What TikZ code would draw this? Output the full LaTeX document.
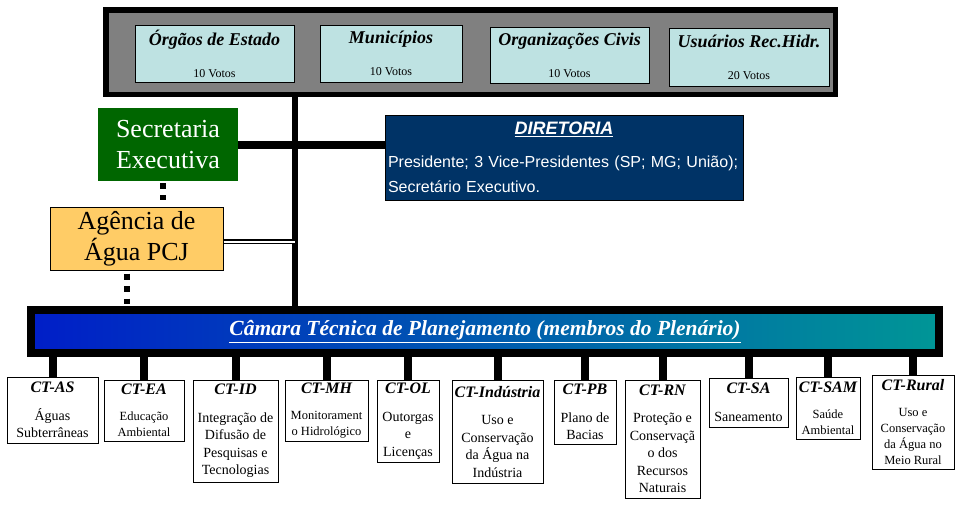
\documentclass[tikz,border=0pt]{standalone}
\usepackage{fontspec}
\setmainfont{Liberation Serif}
\setsansfont{Liberation Sans}
\usetikzlibrary{positioning}
\definecolor{secGreen}{RGB}{0,102,0}
\definecolor{agOrange}{RGB}{255,204,102}
\definecolor{dirBlue}{RGB}{0,51,102}
\definecolor{seatCyan}{RGB}{190,226,226}
\definecolor{camBlue}{RGB}{0,30,200}
\definecolor{camTeal}{RGB}{0,150,150}
\newcommand{\seattitle}[1]{{\fontsize{18}{18}\selectfont\bfseries\itshape #1}}
\newcommand{\cttitle}[1]{{\fontsize{16}{17.5}\selectfont\bfseries\itshape #1}}
\tikzset{%
  % Specifications for style of nodes:
          frame/.style = {rectangle, draw=black, line width=5.5pt, fill=black!50,
                          minimum width=729.5, minimum height=84.5},
           seat/.style = {rectangle, draw=black, line width=1pt, fill=seatCyan,
                          align=center, inner sep=0pt,
                          font=\fontsize{12}{18}\selectfont},
         secbox/.style = {rectangle, fill=secGreen, text=white, align=center,
                          minimum width=140, minimum height=73,
                          font=\fontsize{26}{31}\selectfont},
          agbox/.style = {rectangle, draw=black, line width=1pt, fill=agOrange,
                          align=center, minimum width=173, minimum height=63,
                          font=\fontsize{26}{31}\selectfont},
         dirbox/.style = {rectangle, draw=black, line width=1pt, fill=dirBlue,
                          text=white, align=left, text width=352,
                          inner xsep=3pt, minimum height=85,
                          font=\sffamily\fontsize{16}{25}\selectfont},
         cambar/.style = {rectangle, draw=black, line width=8pt,
                          left color=camBlue, right color=camTeal,
                          minimum width=908, minimum height=43, text=white,
                          font=\fontsize{21.5}{24}\selectfont\bfseries\itshape},
          ctbox/.style = {rectangle, draw=black, line width=1pt, fill=white,
                          align=center, inner sep=1pt,
                          font=\fontsize{14}{17.5}\selectfont},
        ctsmall/.style = {ctbox, font=\fontsize{12.5}{16}\selectfont},
  % Specifications for style of lines:
      trunkline/.style = {line width=6pt},
           link/.style = {line width=8pt},
           drop/.style = {line width=8pt},
        dotlink/.style = {line width=6pt, dash pattern=on 6pt off 6pt},
     doublelink/.style = {double, double distance=2pt, line width=1.7pt},
}

\begin{document}
\begin{tikzpicture}[x=1pt, y=-1pt]
\useasboundingbox (0,0) rectangle (960,504);
  % Plenario (top)
\node (frame) at (470.5,52) [frame] {};
\node (orgaos) at (214.5,53.5) [seat, minimum width=159, minimum height=57]
      {\seattitle{Órgãos de Estado}\\[14pt]10 Votos};
\node (munic) at (391,53.5) [seat, minimum width=142, minimum height=57]
      {\seattitle{Municípios}\\[14pt]10 Votos};
\node (orgciv) at (569.5,55) [seat, minimum width=159, minimum height=56]
      {\seattitle{Organizações Civis}\\[14pt]10 Votos};
\node (usuarios) at (749,57) [seat, minimum width=160, minimum height=58]
      {\seattitle{Usuários Rec.Hidr.}\\[14pt]20 Votos};

  % Secretaria, Agencia, Diretoria
\node (sec) at (168,144.5) [secbox] {Secretaria\\Executiva};
\node (ag) at (136.5,238.5) [agbox] {Agência de\\Água PCJ};
\node (dir) at (564,157.5) [dirbox]
      {{\centering\fontsize{18}{25}\selectfont\bfseries\itshape\underline{DIRETORIA}\par}
       \vspace{8pt}Presidente; 3 Vice-Presidentes (SP; MG; União);\\
       Secretário Executivo.};

  % Camara Tecnica
\node (cam) at (485,331.5) [cambar]
      {\underline{Câmara Técnica de Planejamento (membros do Plenário)}};

\coordinate (trunk) at (295,97);
\draw[trunkline] (trunk) -- (trunk |- cam.north);
\draw[link] (sec.east) -- (sec.east -| dir.west);
\draw[doublelink] ([yshift=-3pt]ag.east) -- ([yshift=-3pt]ag.east -| trunk);
\draw[dotlink, shorten <=2pt, shorten >=7pt]
      ([xshift=-5pt]sec.south) -- ([xshift=-5pt]sec.south |- ag.north);
\draw[dotlink, dash pattern=on 6pt off 6.5pt, shorten <=3pt, shorten >=2pt]
      ([xshift=-9.5pt]ag.south) -- ([xshift=-9.5pt]ag.south |- cam.north);

  % Camaras tecnicas (bottom)
\node (ctAS) at (52.5,410) [ctbox, minimum width=91, minimum height=66]
      {\cttitle{CT-AS}\\[10pt]Águas\\Subterrâneas};
\node (ctEA) at (144,410.5) [ctsmall, minimum width=80, minimum height=61]
      {\cttitle{CT-EA}\\[10pt]Educação\\Ambiental};
\node (ctID) at (235.5,431) [ctbox, minimum width=85, minimum height=102]
      {\cttitle{CT-ID}\\[10pt]Integração de\\Difusão de\\Pesquisas e\\Tecnologias};
\node (ctMH) at (326.5,410.5) [ctsmall, minimum width=83, minimum height=61]
      {\cttitle{CT-MH}\\[10pt]Monitorament\\o Hidrológico};
\node (ctOL) at (408,421) [ctbox, minimum width=62, minimum height=82]
      {\cttitle{CT-OL}\\[10pt]Outorgas\\e\\Licenças};
\node (ctInd) at (497.5,431.5) [ctbox, minimum width=91, minimum height=103]
      {\cttitle{CT-Indústria}\\[10pt]Uso e\\Conservação\\da Água na\\Indústria};
\node (ctPB) at (585,412) [ctbox, minimum width=62, minimum height=64]
      {\cttitle{CT-PB}\\[10pt]Plano de\\Bacias};
\node (ctRN) at (662.5,439) [ctbox, minimum width=75, minimum height=118]
      {\cttitle{CT-RN}\\[10pt]Proteção e\\Conservaçã\\o dos\\Recursos\\Naturais};
\node (ctSA) at (748.5,402.5) [ctbox, minimum width=79, minimum height=49]
      {\cttitle{CT-SA}\\[10pt]Saneamento};
\node (ctSAM) at (828,408) [ctsmall, minimum width=64, minimum height=62]
      {\cttitle{CT-SAM}\\[10pt]Saúde\\Ambiental};
\node (ctRural) at (913,422) [ctsmall, minimum width=82, minimum height=94]
      {\cttitle{CT-Rural}\\[10pt]Uso e\\Conservação\\da Água no\\Meio Rural};

\foreach \ct in {ctAS,ctEA,ctID,ctMH,ctOL,ctInd,ctPB,ctRN,ctSA,ctSAM,ctRural}
  \draw[drop] (\ct.north |- cam.south) -- (\ct.north);
\end{tikzpicture}
\end{document}
